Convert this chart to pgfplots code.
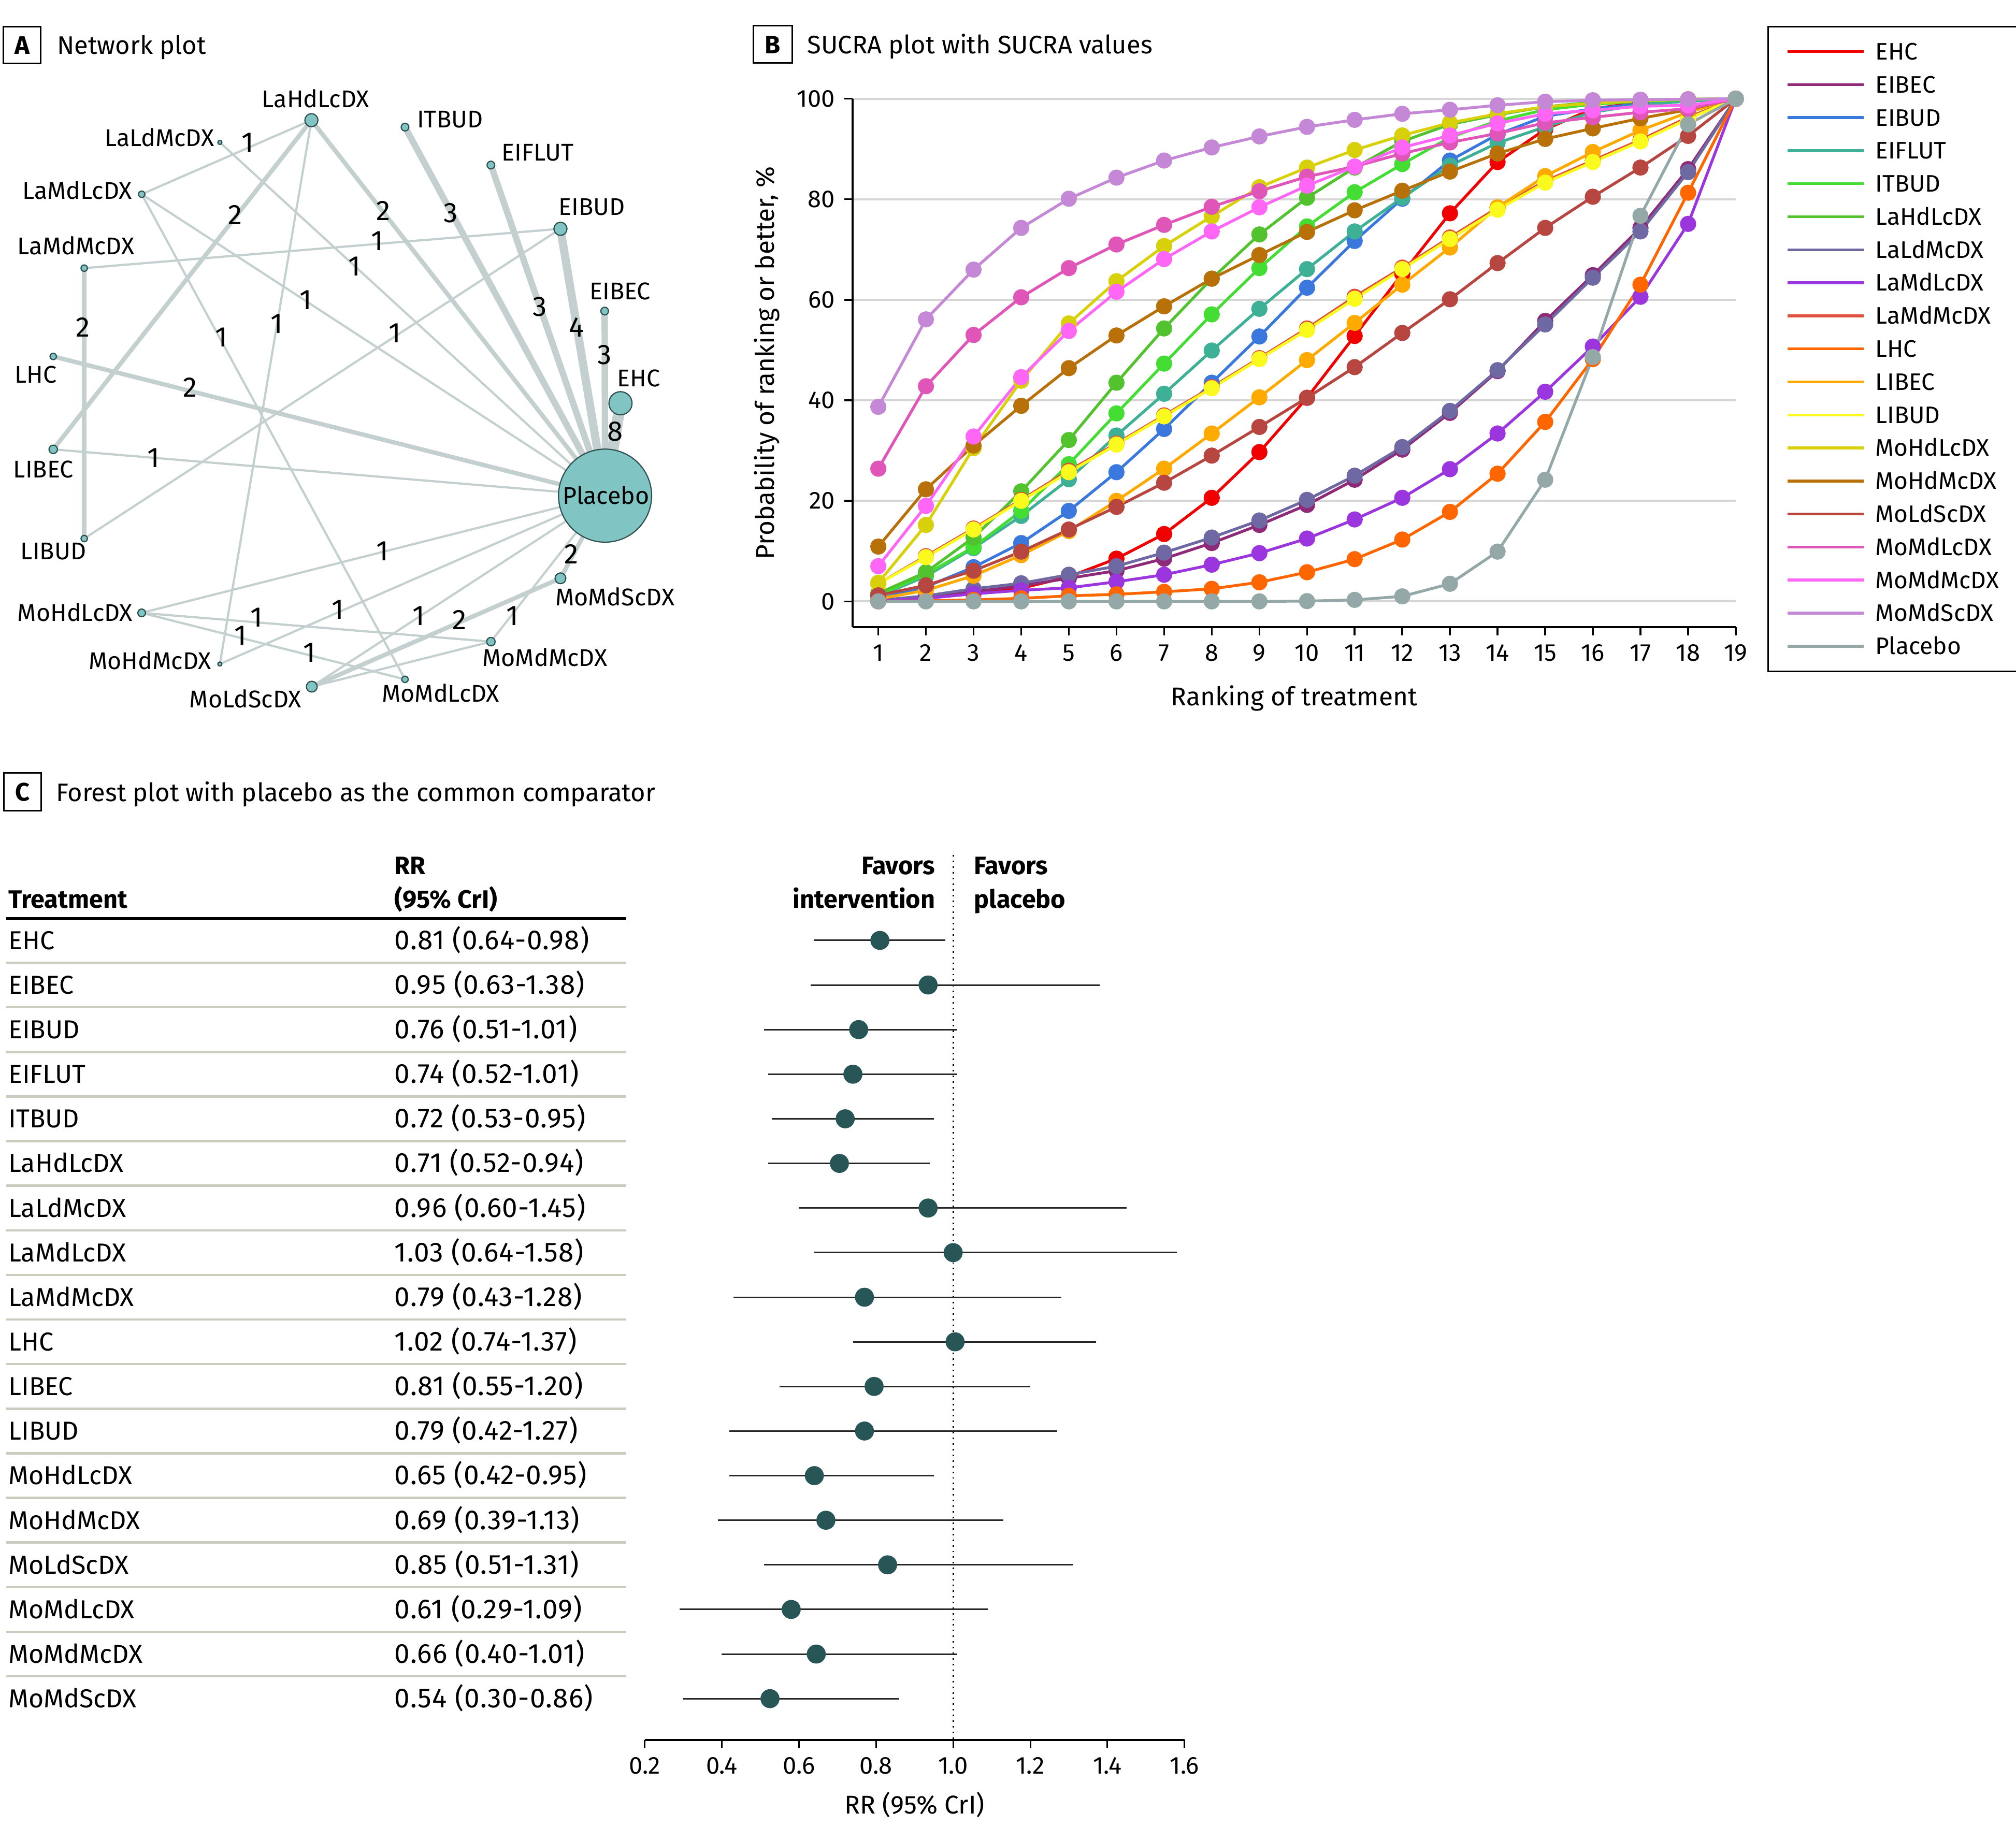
\documentclass[border=0pt]{standalone}
\usepackage{fontspec}
\setmainfont{Fira Sans}
\setsansfont{Fira Sans}
\newfontfamily\rrfont{Fira Sans}[LetterSpace=2.5]
\usepackage{pgfplots}
\usepackage{pgfplotstable}
\pgfplotsset{compat=1.18}

\definecolor{cEHC}{HTML}{F00000}
\definecolor{cEIBEC}{HTML}{8E2A78}
\definecolor{cEIBUD}{HTML}{3A78DE}
\definecolor{cEIFLUT}{HTML}{3DB095}
\definecolor{cITBUD}{HTML}{44DD33}
\definecolor{cLaHdLcDX}{HTML}{52C22E}
\definecolor{cLaLdMcDX}{HTML}{6E68A3}
\definecolor{cLaMdLcDX}{HTML}{9B35DE}
\definecolor{cLaMdMcDX}{HTML}{E0503C}
\definecolor{cLHC}{HTML}{FF6600}
\definecolor{cLIBEC}{HTML}{FFAA00}
\definecolor{cLIBUD}{HTML}{FAFA1E}
\definecolor{cMoHdLcDX}{HTML}{D8D00A}
\definecolor{cMoHdMcDX}{HTML}{B87008}
\definecolor{cMoLdScDX}{HTML}{B84640}
\definecolor{cMoMdLcDX}{HTML}{E055B8}
\definecolor{cMoMdMcDX}{HTML}{FF66F5}
\definecolor{cMoMdScDX}{HTML}{C488D6}
\definecolor{cPlacebo}{HTML}{94A8A8}
\definecolor{edgecol}{HTML}{C4CFCF}
\definecolor{nodefill}{HTML}{80C4C4}
\definecolor{nodeline}{HTML}{2F4F4F}
\definecolor{dotcol}{HTML}{285555}
\definecolor{sepcol}{HTML}{C9CCBF}

\newcommand\fA{\fontsize{9.85}{12}\selectfont}
\newcommand\fN{\fontsize{9.4}{11}\selectfont}
\newcommand\fE{\fontsize{10}{12}\selectfont}
\newcommand\fD{\fontsize{11}{13}\selectfont}
\newcommand\fT{\fontsize{10.1}{12.5}\selectfont}
\newcommand\fR{\rrfont\fontsize{10.7}{12.5}\selectfont}
\newcommand\fH{\fontsize{9.8}{12}\selectfont\bfseries}
\newcommand\fK{\fontsize{9.5}{11}\selectfont}
\newcommand\fL{\fontsize{9.3}{11}\selectfont}

\tikzset{
  e1/.style={draw=edgecol, line width=0.85pt},
  e2/.style={draw=edgecol, line width=1.7pt},
  e3/.style={draw=edgecol, line width=2.5pt},
  e4/.style={draw=edgecol, line width=3.2pt},
  e8/.style={draw=edgecol, line width=4.4pt},
  nl/.style={inner sep=0pt, text depth=0pt, text height=6.5pt, font=\fN},
  el/.style={inner sep=0pt, text depth=0pt, text height=7.6pt, font=\fD},
  tl/.style={inner sep=0pt, text depth=0pt, text height=7pt, font=\fT},
}
\pgfplotsset{
  nd/.style={only marks, mark=*, mark size=#1, mark options={fill=nodefill, draw=nodeline, line width=0.45pt}},
}

% SUCRA: probability of ranking or better (%), ranks 1-19
\pgfplotstableread{
rank EHC EIBEC EIBUD EIFLUT ITBUD LaHdLcDX LaLdMcDX LaMdLcDX LaMdMcDX LHC LIBEC LIBUD MoHdLcDX MoHdMcDX MoLdScDX MoMdLcDX MoMdMcDX MoMdScDX Placebo
1  0.2  0.1  0.5  1.0  1.2  1.6  0.2  0.05 3.5  0.0  0.5  3.5  3.7  10.9 1.2  26.4 7.0  38.7 0
2  0.9  0.9  2.9  5.0  5.4  5.8  1.1  0.6  9.0  0.1  2.2  8.8  15.2 22.3 3.2  42.8 19.0 56.1 0
3  1.9  1.9  6.8  10.6 10.8 12.7 2.5  1.5  14.5 0.3  5.1  14.3 30.5 31.0 6.1  53.0 32.8 66.0 0
4  2.6  3.1  11.6 17.0 18.0 21.9 3.6  2.2  20.2 0.6  9.2  20.0 43.9 38.9 9.9  60.5 44.6 74.3 0
5  4.9  4.6  18.0 24.3 27.3 32.1 5.3  2.7  26.0 1.1  14.0 25.7 55.3 46.4 14.3 66.3 53.8 80.1 0
6  8.5  6.1  25.7 33.0 37.4 43.5 7.0  3.9  31.4 1.4  20.0 31.2 63.7 52.9 18.8 71.0 61.6 84.3 0
7  13.4 8.5  34.3 41.3 47.3 54.3 9.7  5.3  37.0 1.9  26.4 36.8 70.7 58.7 23.6 74.9 68.1 87.7 0
8  20.6 11.6 43.5 49.9 57.1 64.2 12.7 7.3  42.6 2.5  33.4 42.4 76.6 64.2 29.0 78.5 73.6 90.3 0
9  29.7 15.2 52.7 58.2 66.3 73.0 16.1 9.6  48.4 3.8  40.6 48.2 82.4 68.9 34.7 81.6 78.4 92.5 0
10 40.5 19.2 62.4 66.1 74.6 80.3 20.2 12.5 54.3 5.8  48.0 54.0 86.3 73.5 40.5 84.5 82.7 94.4 0.05
11 52.8 24.2 71.7 73.6 81.4 86.3 25.0 16.3 60.6 8.4  55.4 60.2 89.8 77.8 46.6 86.5 86.5 95.8 0.3
12 65.2 30.2 80.1 80.3 87.0 91.5 30.7 20.6 66.4 12.3 63.0 66.1 92.7 81.7 53.4 89.1 90.3 97.0 1.0
13 77.2 37.5 87.7 86.7 92.3 94.9 37.9 26.3 72.4 17.8 70.4 72.1 95.2 85.5 60.1 91.3 92.7 97.8 3.5
14 87.4 45.8 92.9 91.2 95.6 96.8 46.0 33.4 78.3 25.4 78.4 77.9 97.0 89.1 67.3 93.1 95.1 98.7 9.9
15 93.9 55.8 96.5 94.4 97.8 98.4 55.1 41.7 83.6 35.7 84.6 83.3 98.4 92.0 74.3 95.2 97.0 99.4 24.2
16 98.0 64.9 98.0 97.3 98.9 99.3 64.4 50.7 87.7 48.2 89.4 87.4 99.1 94.1 80.5 96.3 97.7 99.7 48.6
17 99.3 74.3 99.0 98.8 99.5 99.7 73.6 60.6 91.8 63.0 93.7 91.5 99.6 96.1 86.3 97.3 98.5 99.8 76.7
18 99.8 86.0 99.6 99.5 99.8 99.9 85.4 75.1 96.3 81.3 97.3 96.0 99.9 97.8 92.6 98.0 98.7 99.9 94.9
19 100  100  100  100  100  100  100  100  100  100  100  100  100  100  100  100  100  100  100
}\sucra

% forest plot: row, estimate, lower, upper
\pgfplotstableread{
row est lo hi
1  0.81  0.64 0.98
2  0.935 0.63 1.38
3  0.755 0.51 1.01
4  0.74  0.52 1.01
5  0.72  0.53 0.95
6  0.705 0.52 0.94
7  0.935 0.60 1.45
8  1.0   0.64 1.58
9  0.77  0.43 1.28
10 1.005 0.74 1.37
11 0.795 0.55 1.20
12 0.77  0.42 1.27
13 0.64  0.42 0.95
14 0.67  0.39 1.13
15 0.83  0.51 1.31
16 0.58  0.29 1.09
17 0.645 0.40 1.01
18 0.525 0.30 0.86
}\forest

\begin{document}
\begin{tikzpicture}
\useasboundingbox (0,0) rectangle (784pt,-716.5pt);

%% A: network plot
\begin{axis}[at={(0pt,0pt)}, anchor=north west, scale only axis,
  width=260pt, height=285pt, xmin=0, xmax=520, ymin=0, ymax=570,
  y dir=reverse, axis lines=none, clip=false]
\addplot[e1] coordinates {(242.2,93.5) (110.2,151.1)};
\addplot[e2] coordinates {(242.2,93.5) (41.4,349.6)};
\addplot[e2] coordinates {(242.2,93.5) (470.6,385.6)};
\addplot[e1] coordinates {(242.2,93.5) (171,516.6)};
\addplot[e1] coordinates {(171,110.8) (470.6,385.6)};
\addplot[e1] coordinates {(110.2,151.1) (470.6,385.6)};
\addplot[e1] coordinates {(110.2,151.1) (315,528.5)};
\addplot[e1] coordinates {(65.5,208.6) (435.9,178)};
\addplot[e2] coordinates {(65.5,208.6) (65.5,419)};
\addplot[e2] coordinates {(41.4,277.3) (470.6,385.6)};
\addplot[e1] coordinates {(41.4,349.6) (470.6,385.6)};
\addplot[e1] coordinates {(65.5,419) (435.9,178)};
\addplot[e1] coordinates {(110.2,476.8) (470.6,385.6)};
\addplot[e1] coordinates {(110.2,476.8) (381.8,499.2)};
\addplot[e1] coordinates {(110.2,476.8) (315,528.5)};
\addplot[e1] coordinates {(171,516.6) (470.6,385.6)};
\addplot[e1] coordinates {(242.5,534.2) (470.6,385.6)};
\addplot[e2] coordinates {(242.5,534.2) (435.9,449.9)};
\addplot[e1] coordinates {(242.5,534.2) (381.8,499.2)};
\addplot[e1] coordinates {(381.8,499.2) (470.6,385.6)};
\addplot[e2] coordinates {(435.9,449.9) (470.6,385.6)};
\addplot[e3] coordinates {(315,98.9) (470.6,385.6)};
\addplot[e3] coordinates {(381.8,128.4) (470.6,385.6)};
\addplot[e4] coordinates {(435.9,178) (470.6,385.6)};
\addplot[e3] coordinates {(470.3,242) (470.6,385.6)};
\addplot[e8] coordinates {(482.6,313.7) (470.6,385.6)};
% nodes, sized by number of participants
\addplot[nd=0.8pt] coordinates {(171,110.8) (171,516.6)};
\addplot[nd=1.25pt] coordinates {(110.2,151.1) (65.5,208.6) (41.4,277.3) (65.5,419) (315,528.5)};
\addplot[nd=1.5pt] coordinates {(110.2,476.8) (470.3,242) (381.8,128.4) (315,98.9)};
\addplot[nd=1.65pt] coordinates {(41.4,349.6) (381.8,499.2)};
\addplot[nd=2.1pt] coordinates {(242.5,534.2) (435.9,449.9)};
\addplot[nd=2.55pt] coordinates {(242.2,93.5) (435.9,178)};
\addplot[nd=4.5pt] coordinates {(482.6,313.7)};
\addplot[nd=18.1pt] coordinates {(470.6,385.6)};
\end{axis}

%% B: SUCRA plot
\begin{axis}[at={(331.55pt,-243.9pt)}, anchor=south west, scale only axis,
  width=343.45pt, height=205.5pt,
  xmin=0.46, xmax=19, ymin=-5.1, ymax=100,
  axis x line*=bottom, axis y line*=left,
  axis line style={-, line width=0.8pt},
  xtick={1,...,19}, ytick={0,20,...,100},
  ymajorgrids, grid style={draw=black!16, line width=0.8pt},
  tick align=outside, major tick length=3.3pt,
  tick style={black, line width=0.7pt},
  tick label style={font=\fK},
  /pgf/number format/assume math mode=true,
  xlabel={Ranking of treatment}, ylabel={Probability of ranking or better, \%},
  label style={font=\fE}, xlabel style={yshift=-2.5pt},
  clip=false,
  legend cell align=left,
  legend style={at={(1.036,1.1382)}, anchor=north west, draw=black, line width=0.6pt,
    inner xsep=7pt, inner ysep=6.55pt, row sep=6.45pt, column sep=3.95pt,
    nodes={inner sep=0pt, text height=6.4pt, text depth=0pt, font=\fL}},
  legend image code/.code={\draw[#1, mark=none, line width=1.1pt] (0pt,0pt) -- (29.6pt,0pt);},
]
\pgfplotsinvokeforeach{EHC,EIBEC,EIBUD,EIFLUT,ITBUD,LaHdLcDX,LaLdMcDX,LaMdLcDX,LaMdMcDX,LHC,LIBEC,LIBUD,MoHdLcDX,MoHdMcDX,MoLdScDX,MoMdLcDX,MoMdMcDX,MoMdScDX,Placebo}{
  \addplot[color=c#1, line width=1.1pt, mark=*, mark size=2.6pt, mark options={solid}]
    table[x=rank, y=#1] {\sucra};
  \addlegendentry{\makebox[47.9pt][l]{#1}}
}
\end{axis}

%% C: forest plot
\begin{axis}[at={(250.7pt,-676.85pt)}, anchor=south west, scale only axis,
  width=209.95pt, height=344.25pt,
  xmin=0.2, xmax=1.6, ymin=-0.9135, ymax=18.928, y dir=reverse,
  axis x line*=bottom, axis y line=none, ytick=\empty,
  axis line style={-, line width=0.8pt},
  xtick={0.2,0.4,0.6,0.8,1.0,1.2,1.4,1.6},
  xticklabels={0.2,0.4,0.6,0.8,1.0,1.2,1.4,1.6},
  tick align=outside, major tick length=3.2pt,
  tick style={black, line width=0.6pt},
  tick label style={font=\fK},
  xlabel={RR (95\% CrI)}, label style={font=\fE},
  clip=false]
\addplot[black, line width=0.6pt, dash pattern=on 0.6pt off 1.6pt] coordinates {(1,-0.9135) (1,18.928)};
\addplot[only marks, mark=*, mark size=3.5pt, color=dotcol,
  error bars/.cd, x dir=both, x explicit, error mark=none,
  error bar style={line width=0.6pt, color=black!85}]
  table[x=est, y=row, x error plus expr=\thisrow{hi}-\thisrow{est}, x error minus expr=\thisrow{est}-\thisrow{lo}] {\forest};
\end{axis}

\begin{scope}[x=0.5pt, y=-0.5pt]
% panel headings
\draw[line width=0.6pt] (2.7,20.9) rectangle (31.7,49.3);
\node[inner sep=0pt, text height=7pt, text depth=0pt, font=\fA\bfseries] at (17.2,35.1) {A};
\node[anchor=west, inner sep=0pt, text height=6.8pt, text depth=0pt, font=\fA] at (44,35.3) {Network plot};
\draw[line width=0.6pt] (586,20.1) rectangle (616,49);
\node[inner sep=0pt, text height=7pt, text depth=0pt, font=\fA\bfseries] at (601,34.6) {B};
\node[anchor=west, inner sep=0pt, text height=6.8pt, text depth=0pt, font=\fA] at (627.6,34.9) {SUCRA plot with SUCRA values};
\draw[line width=0.6pt] (3.1,601.3) rectangle (32.1,630.6);
\node[inner sep=0pt, text height=7pt, text depth=0pt, font=\fA\bfseries] at (17.6,616) {C};
\node[anchor=west, inner sep=0pt, text height=6.8pt, text depth=0pt, font=\fA] at (43.2,616.6) {Forest plot with placebo as the common comparator};

% network labels
\node[nl] at (245.5,77.3) {LaHdLcDX};
\node[nl, anchor=east] at (167,107.2) {LaLdMcDX};
\node[nl, anchor=east] at (103,148.6) {LaMdLcDX};
\node[nl] at (59.1,191.7) {LaMdMcDX};
\node[nl, anchor=west] at (11,291.4) {LHC};
\node[nl, anchor=west] at (10,365.1) {LIBEC};
\node[nl, anchor=west] at (15.7,428.8) {LIBUD};
\node[nl, anchor=east] at (103.5,476.6) {MoHdLcDX};
\node[nl, anchor=east] at (164.7,514.4) {MoHdMcDX};
\node[nl, anchor=east] at (234.8,543.9) {MoLdScDX};
\node[nl, anchor=west] at (296.6,539.6) {MoMdLcDX};
\node[nl, anchor=west] at (374.8,511.9) {MoMdMcDX};
\node[nl, anchor=west] at (431.5,464.7) {MoMdScDX};
\node[nl] at (471.4,385.6) {Placebo};
\node[nl, anchor=west] at (479.6,294.2) {EHC};
\node[nl, anchor=west] at (458.2,226.6) {EIBEC};
\node[nl, anchor=west] at (434.2,161.1) {EIBUD};
\node[nl, anchor=west] at (389.8,118.7) {EIFLUT};
\node[nl, anchor=west] at (324,92.8) {ITBUD};
% edge labels (number of studies)
\foreach \x/\y/\n in {192.7/110.8/1, 183/167/2, 298/163.7/2, 215.4/251.8/1, 275.6/206.8/1,
  237.8/233/1, 172/262/1, 293.3/187/1, 64.5/254.3/2, 148/301.4/2, 119.2/356/1, 307.3/259/1,
  350.7/165.5/3, 420/238.5/3, 448.6/254.3/4, 470.3/276/3, 478.6/335.6/8, 297.3/428.4/1,
  199.4/480.1/1, 187/494.2/1, 240.5/507.6/1, 262.9/474.1/1, 325.7/478.8/1, 357.4/482.1/2,
  398.5/478.8/1, 444.2/431.1/2}
  \node[el] at (\x,\y) {\n};

% forest table
\node[tl, anchor=west, font=\fH] at (6.2,699.3) {Treatment};
\node[tl, anchor=west, font=\fH] at (306.5,673.3) {RR};
\node[tl, anchor=west, font=\fH] at (306.5,699.3) {(95\% CrI)};
\node[tl, anchor=east, font=\fH] at (727.7,673.3) {Favors};
\node[tl, anchor=east, font=\fH] at (727.7,699.3) {intervention};
\node[tl, anchor=west, font=\fH] at (757.3,673.3) {Favors};
\node[tl, anchor=west, font=\fH] at (757.3,699.3) {placebo};
\draw[line width=1.2pt] (5,714.6) -- (487.2,714.6);
\foreach \i in {1,...,17}
  \draw[sepcol, line width=0.9pt] (5,{731.6+34.7*(\i-0.5)}) -- (487.2,{731.6+34.7*(\i-0.5)});
\foreach \i/\n/\r in {1/EHC/0.81 (0.64-0.98), 2/EIBEC/0.95 (0.63-1.38), 3/EIBUD/0.76 (0.51-1.01),
  4/EIFLUT/0.74 (0.52-1.01), 5/ITBUD/0.72 (0.53-0.95), 6/LaHdLcDX/0.71 (0.52-0.94),
  7/LaLdMcDX/0.96 (0.60-1.45), 8/LaMdLcDX/1.03 (0.64-1.58), 9/LaMdMcDX/0.79 (0.43-1.28),
  10/LHC/1.02 (0.74-1.37), 11/LIBEC/0.81 (0.55-1.20), 12/LIBUD/0.79 (0.42-1.27),
  13/MoHdLcDX/0.65 (0.42-0.95), 14/MoHdMcDX/0.69 (0.39-1.13), 15/MoLdScDX/0.85 (0.51-1.31),
  16/MoMdLcDX/0.61 (0.29-1.09), 17/MoMdMcDX/0.66 (0.40-1.01), 18/MoMdScDX/0.54 (0.30-0.86)} {
  \node[tl, anchor=west] at (6.2,{731.6+34.7*(\i-1)}) {\n};
  \node[tl, anchor=west, font=\fR] at (306.5,{731.6+34.7*(\i-1)}) {\r};
}
\end{scope}
\end{tikzpicture}
\end{document}
